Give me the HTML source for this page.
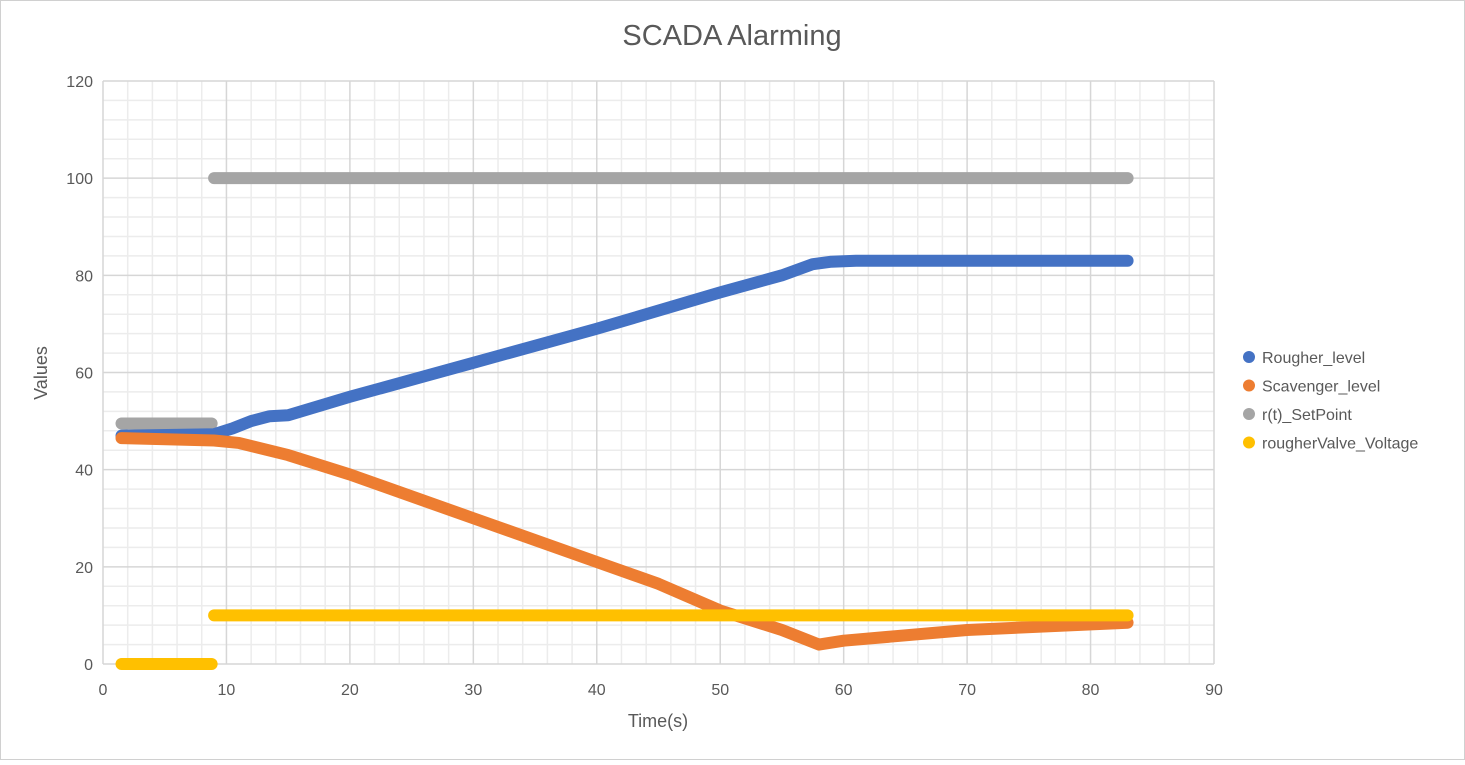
<!DOCTYPE html>
<html><head><meta charset="utf-8">
<style>
html,body{margin:0;padding:0;background:#fff;}
svg text{font-family:"Liberation Sans",Arial,sans-serif;}
</style></head>
<body>
<svg id="chart" width="1465" height="760" xmlns="http://www.w3.org/2000/svg">
<rect x="0.5" y="0.5" width="1464" height="759" fill="#fff" stroke="#d0d0d0"/>
<text x="732" y="45" font-size="29" fill="#595959" text-anchor="middle">SCADA Alarming</text>
<g id="grid"></g>
<g id="axes"></g>
<g id="series"></g>
<text x="658" y="727" font-size="18" fill="#595959" text-anchor="middle">Time(s)</text>
<text x="47" y="373" font-size="18" fill="#595959" text-anchor="middle" transform="rotate(-90 47 373)">Values</text>
<g id="legend"></g>
</svg>
<script>
const xTicks=[0,10,20,30,40,50,60,70,80,90];
const yTicks=[0,20,40,60,80,100,120];
const seriesNames=["Rougher_level","Scavenger_level","r(t)_SetPoint","rougherValve_Voltage"];
const seriesColors=["#4472c4","#ed7d31","#a5a5a5","#ffc000"];
const rougherX=[1.5,9,10.5,12,13.5,15,20,30,40,50,55,57.5,59,61,70,83];
const rougherY=[47,47.3,48.5,50,51,51.2,55,62,69,76.5,80,82.3,82.8,83,83,83];
const scavX=[1.5,9,11,15,20,30,40,45,50,55,58,60,70,83];
const scavY=[46.5,46,45.5,43,39,30,21,16.5,11,7,4,4.8,7,8.5];
const spSegX=[[1.5,8.8],[9,83]];
const spSegY=[[49.5,49.5],[100,100]];
const vSegX=[[1.5,8.8],[9,83]];
const vSegY=[[0,0],[10,10]];
const NS="http://www.w3.org/2000/svg";
const X0=103,X1=1214,Y0=664,Y1=81;
const sx=v=>X0+(v-0)/(90-0)*(X1-X0);
const sy=v=>Y0-(v-0)/(120-0)*(Y0-Y1);
function mk(tag,attrs,parent){const e=document.createElementNS(NS,tag);for(const k in attrs)e.setAttribute(k,attrs[k]);parent.appendChild(e);return e;}
const grid=document.getElementById('grid');
for(let v=2;v<90;v+=2){if(v%10===0)continue;const l=mk('line',{x1:sx(v),x2:sx(v),y1:Y1,y2:Y0,stroke:'#ececec','stroke-width':1.5},grid);

}
for(let v=4;v<120;v+=4){if(v%20===0)continue;const l=mk('line',{x1:X0,x2:X1,y1:sy(v),y2:sy(v),stroke:'#ececec','stroke-width':1.5},grid);

}
const axes=document.getElementById('axes');
xTicks.forEach(v=>{const l=mk('line',{x1:sx(v),x2:sx(v),y1:Y1,y2:Y0,stroke:'#d6d6d6','stroke-width':1.5},axes);


const t=mk('text',{x:sx(v),y:Y0+31,'font-size':16,fill:'#595959','text-anchor':'middle'},axes);t.textContent=v;

});
yTicks.forEach(v=>{const l=mk('line',{x1:X0,x2:X1,y1:sy(v),y2:sy(v),stroke:'#d6d6d6','stroke-width':1.5},axes);


const t=mk('text',{x:X0-10,y:sy(v)+6,'font-size':16,fill:'#595959','text-anchor':'end'},axes);t.textContent=v;

});
const ser=document.getElementById('series');
function path(xs,ys,color,name){const d=xs.map((x,i)=>(i?'L':'M')+sx(x)+' '+sy(ys[i])).join(' ');
const p=mk('path',{d:d,fill:'none',stroke:color,'stroke-width':12,'stroke-linecap':'round','stroke-linejoin':'round'},ser);

}
spSegX.forEach((xs,i)=>path(xs,spSegY[i],seriesColors[2],'setpoint-series'));
path(rougherX,rougherY,seriesColors[0],'rougher-level-series');
path(scavX,scavY,seriesColors[1],'scavenger-level-series');
vSegX.forEach((xs,i)=>path(xs,vSegY[i],seriesColors[3],'valve-voltage-series'));
const lg=document.getElementById('legend');
seriesNames.forEach((n,i)=>{const y=357+i*28.5;
const g=mk('g',{},lg);


mk('circle',{cx:1249,cy:y,r:6,fill:seriesColors[i]},g);
const t=mk('text',{x:1262,y:y+6,'font-size':16,fill:'#595959'},g);t.textContent=n;});
</script>
</body></html>
